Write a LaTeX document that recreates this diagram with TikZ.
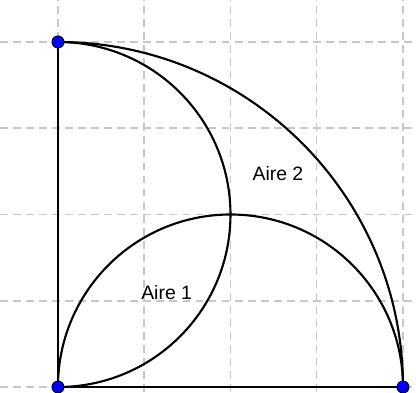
\documentclass[tikz,border=0pt]{standalone}
\usepackage{fontspec}
\setmainfont{Liberation Sans}
\usepackage{tikz}
\usetikzlibrary{positioning}
\tikzstyle{gridline} = [draw=black!22, line width=0.5pt, dash pattern=on 2.6pt off 1.7pt]
\tikzstyle{curve} = [draw=black, line width=0.7pt]
\tikzstyle{pointdot} = [circle, fill=blue, draw=black, line width=0.3pt, inner sep=0pt, minimum size=0.14cm]
\tikzstyle{area} = [font=\fontsize{6.4}{7.7}\selectfont, inner sep=0pt]

\begin{document}
\begin{tikzpicture}
\useasboundingbox (-0.672,-0.058) rectangle (4.151,4.487);
% grid
\foreach \k in {0,...,4} {
  \draw [gridline] (\k,-0.058) -- (\k,4.487);
  \draw [gridline] (-0.672,\k) -- (4.151,\k);
}
\coordinate (O) at (0,0);
\coordinate (A) at (0,4);
\coordinate (B) at (4,0);

\draw [curve] (O) -- (A);
\draw [curve] (O) -- (B);
\draw [curve] (A) arc (90:0:4);
\draw [curve] (A) arc (90:-90:2);
\draw [curve] (B) arc (0:180:2);

\node (aire1) [area] at (1.26,1.09) {Aire 1};
\node (aire2) [area] at (2.55,2.48) {Aire 2};

\node (pO) [pointdot] at (O) {};
\node (pA) [pointdot] at (A) {};
\node (pB) [pointdot] at (B) {};
\end{tikzpicture}
\end{document}
